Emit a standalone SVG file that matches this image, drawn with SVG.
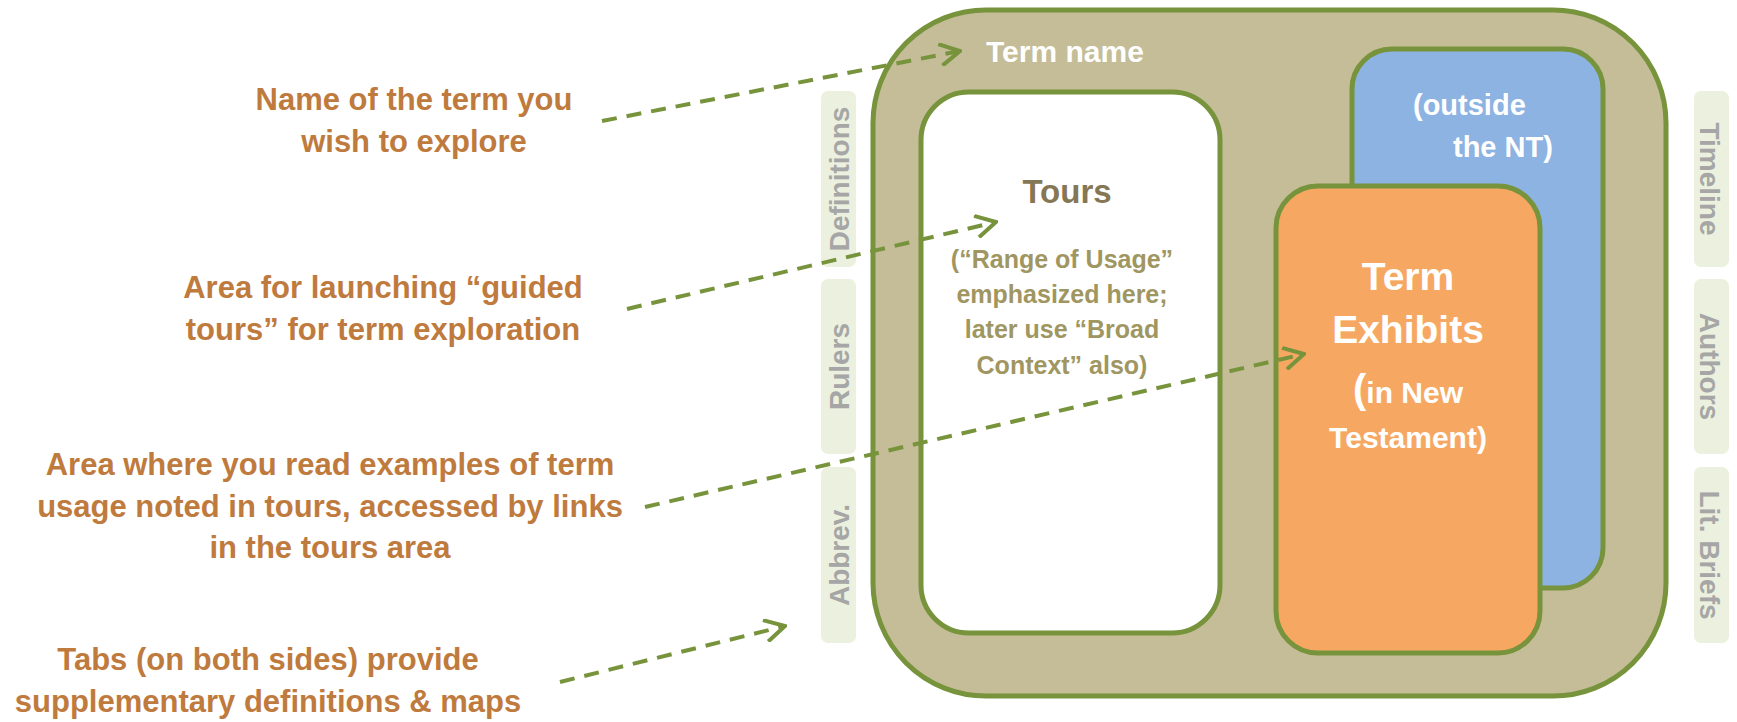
<svg xmlns="http://www.w3.org/2000/svg" width="1737" height="722" viewBox="0 0 1737 722">
<defs>
<style>
.ann{font-family:"Liberation Sans",Arial,sans-serif;font-weight:bold;font-size:31px;fill:#BF7A3D;text-anchor:middle}
.tab{fill:#EBF1DE}
.tabt{font-family:"Liberation Sans",Arial,sans-serif;font-weight:bold;font-size:28px;fill:#A6A6A6;text-anchor:middle}
.box{stroke:#77933C;stroke-width:5}
.wt{font-family:"Liberation Sans",Arial,sans-serif;font-weight:bold;fill:#FFFFFF}
.sub{font-family:"Liberation Sans",Arial,sans-serif;font-weight:bold;font-size:25px;fill:#A09661;text-anchor:middle}
.conn{fill:none;stroke:#77933C;stroke-width:4;stroke-dasharray:15 10}
</style>
<marker id="arr" viewBox="0 0 12 12" refX="11" refY="6" markerWidth="24" markerHeight="24" markerUnits="userSpaceOnUse" orient="auto">
<path d="M1,0.5 L11,6 L1,11.5" fill="none" stroke="#77933C" stroke-width="2"/>
</marker>
</defs>
<rect width="1737" height="722" fill="#FFFFFF"/>

<g id="annotations">
<text class="ann" x="414" y="110">Name of the term you</text>
<text class="ann" x="414" y="152">wish to explore</text>
<text class="ann" x="383" y="298">Area for launching “guided</text>
<text class="ann" x="383" y="340">tours” for term exploration</text>
<text class="ann" x="330" y="475">Area where you read examples of term</text>
<text class="ann" x="330" y="517">usage noted in tours, accessed by links</text>
<text class="ann" x="330" y="558">in the tours area</text>
<text class="ann" x="268" y="670">Tabs (on both sides) provide</text>
<text class="ann" x="268" y="712">supplementary definitions &amp; maps</text>
</g>

<g id="tabs-left">
<g id="tab-definitions"><rect class="tab" x="821" y="91" width="35" height="176" rx="7"/><text class="tabt" transform="translate(849,179) rotate(-90)">Definitions</text></g>
<g id="tab-rulers"><rect class="tab" x="821" y="279" width="35" height="175" rx="7"/><text class="tabt" transform="translate(849,366.5) rotate(-90)">Rulers</text></g>
<g id="tab-abbrev"><rect class="tab" x="821" y="467" width="35" height="176" rx="7"/><text class="tabt" transform="translate(849,555) rotate(-90)">Abbrev.</text></g>
</g>

<g id="tabs-right">
<g id="tab-timeline"><rect class="tab" x="1694" y="91" width="35" height="176" rx="7"/><text class="tabt" transform="translate(1700,179) rotate(90)">Timeline</text></g>
<g id="tab-authors"><rect class="tab" x="1694" y="279" width="35" height="175" rx="7"/><text class="tabt" transform="translate(1700,366.5) rotate(90)">Authors</text></g>
<g id="tab-litbriefs"><rect class="tab" x="1694" y="467" width="35" height="176" rx="7"/><text class="tabt" transform="translate(1700,555) rotate(90)">Lit. Briefs</text></g>
</g>

<g id="container">
<rect class="box" x="873" y="10" width="793" height="686" rx="113" fill="#C4BD97"/>
<text class="wt" x="986" y="62" font-size="30">Term name</text>
</g>

<g id="tours">
<rect class="box" x="921" y="92" width="299" height="541" rx="48" fill="#FFFFFF"/>
<text x="1067" y="203" font-family="Liberation Sans, Arial, sans-serif" font-weight="bold" font-size="33" fill="#857655" text-anchor="middle">Tours</text>
<text class="sub" x="1062" y="268">(“Range of Usage”</text>
<text class="sub" x="1062" y="303">emphasized here;</text>
<text class="sub" x="1062" y="338">later use “Broad</text>
<text class="sub" x="1062" y="374">Context” also)</text>
</g>

<g id="outside-nt">
<rect class="box" x="1352" y="49" width="251" height="539" rx="40" fill="#8DB3E2"/>
<text class="wt" x="1413" y="115" font-size="29">(outside</text>
<text class="wt" x="1453" y="157" font-size="29">the NT)</text>
</g>

<g id="term-exhibits">
<rect class="box" x="1276" y="186" width="264" height="467" rx="42" fill="#F6A863"/>
<text class="wt" x="1408" y="290" font-size="39" text-anchor="middle">Term</text>
<text class="wt" x="1408" y="343" font-size="39" text-anchor="middle">Exhibits</text>
<text class="wt" x="1408" y="403" font-size="30" text-anchor="middle"><tspan font-size="40">(</tspan>in New</text>
<text class="wt" x="1408" y="448" font-size="30" text-anchor="middle">Testament)</text>
</g>

<g id="connectors">
<line class="conn" x1="602" y1="121" x2="960" y2="51" marker-end="url(#arr)"/>
<line class="conn" x1="627" y1="309" x2="996" y2="222" marker-end="url(#arr)"/>
<line class="conn" x1="645" y1="507" x2="1304" y2="354" marker-end="url(#arr)"/>
<line class="conn" x1="560" y1="682" x2="785" y2="626" marker-end="url(#arr)"/>
</g>
</svg>
